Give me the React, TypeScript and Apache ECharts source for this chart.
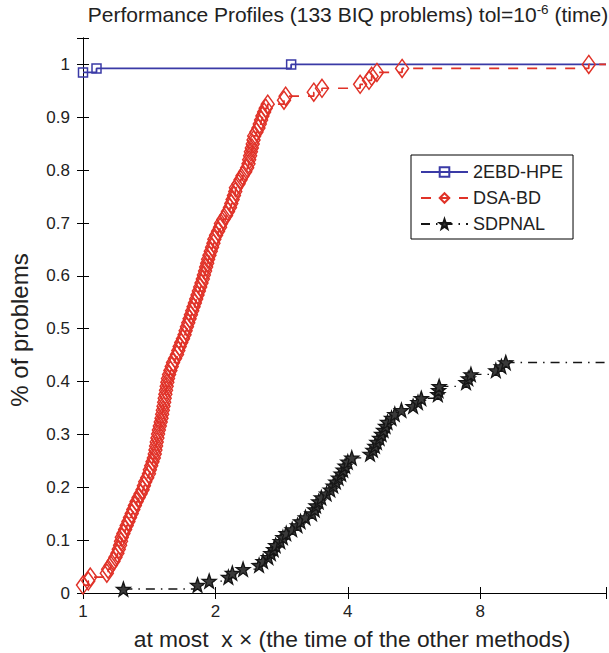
import React, { useEffect, useRef } from "react";
import * as echarts from "echarts";

// total number of problems in the profile
const nProblems = 133;
// x axis range in log2 units
const xMaxLog2 = 3.95;
const xTickLabels = ["1", "2", "4", "8"];
const yTickLabels = ["0", "0.1", "0.2", "0.3", "0.4", "0.5", "0.6", "0.7", "0.8", "0.9", "1"];

// [log2(ratio), number of problems solved]
const hpeData: [number, number][] = [
  [0, 131], [0.102, 132], [1.572, 133],
];

const dsaData: [number, number][] = [
  [0, 2], [0.04, 3], [0.055, 4], [0.18, 5], [0.19, 6], [0.21, 7], [0.23, 8], [0.245, 9],
  [0.26, 10], [0.27, 11], [0.28, 12], [0.287, 13], [0.293, 14], [0.305, 15], [0.318, 16],
  [0.33, 17], [0.343, 18], [0.355, 19], [0.368, 20], [0.38, 21], [0.392, 22], [0.405, 23],
  [0.42, 24], [0.435, 25], [0.45, 26], [0.46, 27], [0.47, 28], [0.485, 29], [0.498, 30],
  [0.505, 31], [0.515, 32], [0.525, 33], [0.535, 34], [0.542, 35], [0.547, 36], [0.552, 37],
  [0.557, 38], [0.562, 39], [0.567, 40], [0.573, 41], [0.58, 42], [0.587, 43], [0.593, 44],
  [0.598, 45], [0.603, 46], [0.608, 47], [0.613, 48], [0.617, 49], [0.622, 50], [0.627, 51],
  [0.632, 52], [0.637, 53], [0.642, 54], [0.65, 55], [0.66, 56], [0.67, 57], [0.68, 58],
  [0.695, 59], [0.71, 60], [0.72, 61], [0.73, 62], [0.742, 63], [0.755, 64], [0.767, 65],
  [0.775, 66], [0.785, 67], [0.795, 68], [0.805, 69], [0.815, 70], [0.825, 71], [0.835, 72],
  [0.845, 73], [0.855, 74], [0.865, 75], [0.875, 76], [0.885, 77], [0.895, 78], [0.905, 79],
  [0.913, 80], [0.922, 81], [0.93, 82], [0.938, 83], [0.945, 84], [0.955, 85], [0.965, 86],
  [0.975, 87], [0.985, 88], [0.992, 89], [1.005, 90], [1.02, 91], [1.035, 92], [1.042, 93],
  [1.06, 94], [1.08, 95], [1.095, 96], [1.11, 97], [1.12, 98], [1.13, 99], [1.14, 100],
  [1.15, 101], [1.155, 102], [1.175, 103], [1.19, 104], [1.205, 105], [1.225, 106],
  [1.24, 107], [1.25, 108], [1.255, 109], [1.262, 110], [1.268, 111], [1.275, 112],
  [1.282, 113], [1.288, 114], [1.293, 115], [1.31, 116], [1.325, 117], [1.335, 118],
  [1.345, 119], [1.355, 120], [1.368, 121], [1.38, 122], [1.395, 123], [1.518, 124],
  [1.53, 125], [1.743, 126], [1.805, 127], [2.093, 128], [2.16, 129], [2.18, 130],
  [2.22, 131], [2.41, 132], [3.82, 133],
];

const sdpnalData: [number, number][] = [
  [0.305, 1], [0.865, 2], [0.953, 3], [1.098, 4], [1.128, 5], [1.209, 6], [1.33, 7],
  [1.36, 8], [1.4, 9], [1.419, 10], [1.44, 11], [1.455, 12], [1.49, 13], [1.51, 14],
  [1.535, 15], [1.58, 16], [1.62, 17], [1.643, 18], [1.68, 19], [1.73, 20], [1.75, 21],
  [1.76, 22], [1.78, 23], [1.8, 24], [1.84, 25], [1.868, 26], [1.89, 27], [1.91, 28],
  [1.93, 29], [1.95, 30], [1.965, 31], [1.98, 32], [2.0, 33], [2.03, 34], [2.168, 35],
  [2.19, 36], [2.205, 37], [2.22, 38], [2.24, 39], [2.255, 40], [2.27, 41], [2.285, 42],
  [2.3, 43], [2.33, 44], [2.355, 45], [2.405, 46], [2.493, 47], [2.53, 48], [2.555, 49],
  [2.68, 50], [2.685, 51], [2.69, 52], [2.893, 53], [2.91, 54], [2.93, 55], [3.118, 56],
  [3.16, 57], [3.193, 58],
];

const FONT = "'Liberation Sans', Arial, Helvetica, sans-serif";
const BLUE = "#3a3aa6";
const RED = "#e03228";
const BLACK = "#151515";
const STAR =
  "path://M0,-10L2.35,-3.24L9.51,-3.09L3.8,1.24L5.88,8.09L0,4L-5.88,8.09L-3.8,1.24L-9.51,-3.09L-2.35,-3.24Z";

function toSeriesData(pts: [number, number][]) {
  const out: any[] = pts.map(([x, c]) => [x, c / nProblems]);
  const last = pts[pts.length - 1];
  out.push({ value: [xMaxLog2, last[1] / nProblems], symbol: "none" });
  return out;
}

export default function App() {
  const ref = useRef<HTMLDivElement>(null);
  useEffect(() => {
    if (!ref.current) return;
    const chart = echarts.init(ref.current, undefined, { renderer: "svg" });
    const tickStyle = { inside: true, length: 6, lineStyle: { color: "#000", width: 1 } };
    const lineAxis = { show: true, lineStyle: { color: "#000", width: 1 } };
    chart.setOption({
      animation: false,
      backgroundColor: "#fff",
      title: {
        text: "Performance Profiles (133 BIQ problems) tol=10{sup|-6} (time)",
        left: 348,
        textAlign: "center",
        top: 2,
        padding: 0,
        textStyle: {
          fontFamily: FONT,
          fontSize: 21,
          fontWeight: "normal",
          color: "#222",
          lineHeight: 25,
          rich: {
            sup: { fontFamily: FONT, fontSize: 13.5, color: "#222", verticalAlign: "top", lineHeight: 14 },
          },
        },
      },
      graphic: [
        {
          type: "text",
          x: 19,
          y: 330,
          rotation: Math.PI / 2,
          style: {
            text: "% of problems",
            font: `24px ${FONT}`,
            fill: "#222",
            align: "center",
            verticalAlign: "middle",
          },
        },
        {
          type: "text",
          x: 352,
          y: 639,
          style: {
            text: "at most  x \u00d7 (the time of the other methods)",
            font: `22.8px ${FONT}`,
            fill: "#222",
            align: "center",
            verticalAlign: "middle",
          },
        },
      ],
      grid: { left: 83, top: 38, right: 0, bottom: 60, show: false },
      legend: {
        data: ["2EBD-HPE", "DSA-BD", "SDPNAL"],
        orient: "vertical",
        left: 411,
        top: 155,
        padding: [7, 10, 5, 9],
        itemGap: 6,
        itemWidth: 47,
        itemHeight: 12,
        borderColor: "#000",
        borderWidth: 1,
        backgroundColor: "#fff",
        borderRadius: 0,
        textStyle: { fontFamily: FONT, fontSize: 18, color: "#222", lineHeight: 20 },
      },
      xAxis: [
        {
          type: "value",
          min: 0,
          max: xMaxLog2,
          interval: 1,
          position: "bottom",
          axisLine: lineAxis,
          axisTick: tickStyle,
          splitLine: { show: false },
          axisLabel: {
            margin: 10,
            fontFamily: FONT,
            fontSize: 17,
            color: "#222",
            formatter: (v: number) => {
              const i = Math.round(v);
              return Math.abs(v - i) < 1e-6 && i < xTickLabels.length ? xTickLabels[i] : "";
            },
          },
        },
        {
          type: "value",
          min: 0,
          max: xMaxLog2,
          interval: 1,
          position: "top",
          axisLine: lineAxis,
          axisTick: tickStyle,
          axisLabel: { show: false },
          splitLine: { show: false },
        },
      ],
      yAxis: [
        {
          type: "value",
          min: 0,
          max: 1.05,
          interval: 0.1,
          position: "left",
          axisLine: lineAxis,
          axisTick: tickStyle,
          splitLine: { show: false },
          axisLabel: {
            margin: 13,
            fontFamily: FONT,
            fontSize: 17,
            color: "#222",
            formatter: (v: number) => {
              const i = Math.round(v * 10);
              return Math.abs(v * 10 - i) < 1e-6 && i < yTickLabels.length ? yTickLabels[i] : "";
            },
          },
        },
        {
          type: "value",
          min: 0,
          max: 1.05,
          interval: 0.1,
          position: "right",
          axisLine: lineAxis,
          axisTick: tickStyle,
          axisLabel: { show: false },
          splitLine: { show: false },
        },
      ],
      series: [
        {
          name: "2EBD-HPE",
          type: "line",
          step: "end",
          data: toSeriesData(hpeData),
          symbol: "rect",
          symbolSize: 9,
          showAllSymbol: true,
          clip: false,
          lineStyle: { color: BLUE, width: 1.8, type: "solid" },
          itemStyle: { color: "rgba(0,0,0,0)", borderColor: BLUE, borderWidth: 1.5 },
          emphasis: { disabled: true },
        },
        {
          name: "DSA-BD",
          type: "line",
          step: "end",
          data: toSeriesData(dsaData),
          symbol: "diamond",
          symbolSize: [13, 18],
          showAllSymbol: true,
          clip: false,
          lineStyle: { color: RED, width: 1.7, type: [10, 9] },
          itemStyle: { color: "rgba(0,0,0,0)", borderColor: RED, borderWidth: 1.5 },
          emphasis: { disabled: true },
        },
        {
          name: "SDPNAL",
          type: "line",
          step: "end",
          data: toSeriesData(sdpnalData),
          symbol: STAR,
          symbolSize: 14,
          showAllSymbol: true,
          clip: false,
          lineStyle: { color: BLACK, width: 1.4, type: [9, 6, 1.5, 6] },
          itemStyle: { color: "#3a3a3a", borderColor: BLACK, borderWidth: 1.3 },
          emphasis: { disabled: true },
        },
      ],
    });
    return () => chart.dispose();
  }, []);
  return (
    <div
      ref={ref}
      style={{ position: "absolute", left: 0, top: 0, width: 609, height: 653, background: "#fff" }}
    />
  );
}
